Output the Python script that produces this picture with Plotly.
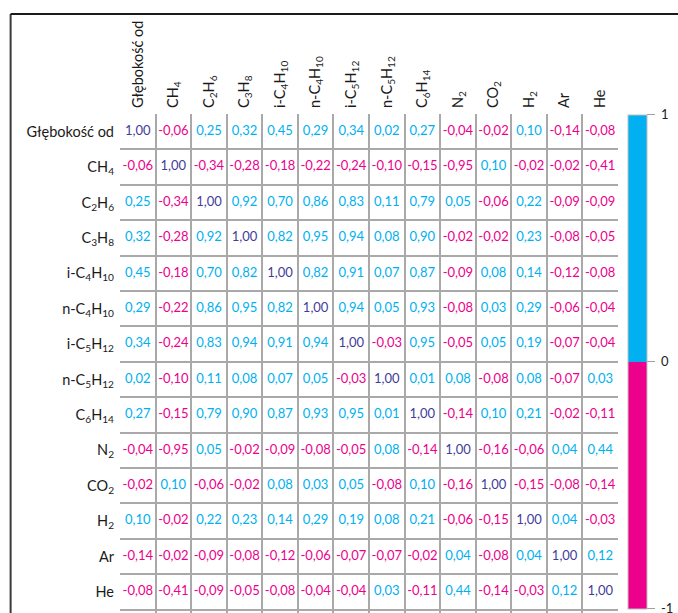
import plotly.graph_objects as go

labels = ["Głębokość od", "CH<sub>4</sub>", "C<sub>2</sub>H<sub>6</sub>", "C<sub>3</sub>H<sub>8</sub>",
          "i-C<sub>4</sub>H<sub>10</sub>", "n-C<sub>4</sub>H<sub>10</sub>", "i-C<sub>5</sub>H<sub>12</sub>",
          "n-C<sub>5</sub>H<sub>12</sub>", "C<sub>6</sub>H<sub>14</sub>", "N<sub>2</sub>", "CO<sub>2</sub>",
          "H<sub>2</sub>", "Ar", "He"]

r_glebokosc = [1.00, -0.06, 0.25, 0.32, 0.45, 0.29, 0.34, 0.02, 0.27, -0.04, -0.02, 0.10, -0.14, -0.08]
r_ch4 = [-0.06, 1.00, -0.34, -0.28, -0.18, -0.22, -0.24, -0.10, -0.15, -0.95, 0.10, -0.02, -0.02, -0.41]
r_c2h6 = [0.25, -0.34, 1.00, 0.92, 0.70, 0.86, 0.83, 0.11, 0.79, 0.05, -0.06, 0.22, -0.09, -0.09]
r_c3h8 = [0.32, -0.28, 0.92, 1.00, 0.82, 0.95, 0.94, 0.08, 0.90, -0.02, -0.02, 0.23, -0.08, -0.05]
r_ic4h10 = [0.45, -0.18, 0.70, 0.82, 1.00, 0.82, 0.91, 0.07, 0.87, -0.09, 0.08, 0.14, -0.12, -0.08]
r_nc4h10 = [0.29, -0.22, 0.86, 0.95, 0.82, 1.00, 0.94, 0.05, 0.93, -0.08, 0.03, 0.29, -0.06, -0.04]
r_ic5h12 = [0.34, -0.24, 0.83, 0.94, 0.91, 0.94, 1.00, -0.03, 0.95, -0.05, 0.05, 0.19, -0.07, -0.04]
r_nc5h12 = [0.02, -0.10, 0.11, 0.08, 0.07, 0.05, -0.03, 1.00, 0.01, 0.08, -0.08, 0.08, -0.07, 0.03]
r_c6h14 = [0.27, -0.15, 0.79, 0.90, 0.87, 0.93, 0.95, 0.01, 1.00, -0.14, 0.10, 0.21, -0.02, -0.11]
r_n2 = [-0.04, -0.95, 0.05, -0.02, -0.09, -0.08, -0.05, 0.08, -0.14, 1.00, -0.16, -0.06, 0.04, 0.44]
r_co2 = [-0.02, 0.10, -0.06, -0.02, 0.08, 0.03, 0.05, -0.08, 0.10, -0.16, 1.00, -0.15, -0.08, -0.14]
r_h2 = [0.10, -0.02, 0.22, 0.23, 0.14, 0.29, 0.19, 0.08, 0.21, -0.06, -0.15, 1.00, 0.04, -0.03]
r_ar = [-0.14, -0.02, -0.09, -0.08, -0.12, -0.06, -0.07, -0.07, -0.02, 0.04, -0.08, 0.04, 1.00, 0.12]
r_he = [-0.08, -0.41, -0.09, -0.05, -0.08, -0.04, -0.04, 0.03, -0.11, 0.44, -0.14, -0.03, 0.12, 1.00]

matrix = [r_glebokosc, r_ch4, r_c2h6, r_c3h8, r_ic4h10, r_nc4h10, r_ic5h12,
          r_nc5h12, r_c6h14, r_n2, r_co2, r_h2, r_ar, r_he]

cbar_vals = [-1, 0, 1]
cbar_text = ["\u00a0-1", "\u00a00", "\u00a01"]

BLUE = "#00B0F0"
MAGENTA = "#EC008C"
DIAG = "#3F3D99"
GRID = "#A9A9A9"

n = len(labels)
xs, ys, txt, cols = [], [], [], []
for i, row in enumerate(matrix):
    for j, v in enumerate(row):
        xs.append(j)
        ys.append(i)
        txt.append(f"{v:.2f}".replace(".", ","))
        if i == j:
            cols.append(DIAG)
        elif v >= 0:
            cols.append(BLUE)
        else:
            cols.append(MAGENTA)

fig = go.Figure()
fig.add_trace(go.Scatter(
    x=xs, y=ys, mode="text", text=txt,
    textfont=dict(color=cols, size=13, family="Lato"),
    hoverinfo="skip", showlegend=False,
))
# colour bar carrier
fig.add_trace(go.Scatter(
    x=[0], y=[0], mode="markers", hoverinfo="skip", showlegend=False,
    marker=dict(color=[0], cmin=-1, cmax=1, opacity=0, size=1,
                colorscale=[[0, MAGENTA], [0.5, MAGENTA], [0.5, BLUE], [1, BLUE]],
                showscale=True,
                colorbar=dict(
                    x=1.0197, xanchor="left", xpad=0,
                    y=0.9984, yanchor="top", ypad=0,
                    lenmode="pixels", len=494,
                    thicknessmode="pixels", thickness=19,
                    outlinewidth=1, outlinecolor="#BFBFBF",
                    tickvals=cbar_vals, ticktext=cbar_text,
                    ticks="outside", ticklen=8, tickcolor="#A0A0A0", tickwidth=1,
                    ticklabeloverflow="allow",
                    tickfont=dict(size=13, color="#222222", family="Lato"),
                )),
))

W, H = 678, 613
L, R, T, B = 120, 59.5, 113.5, 0
pw = W - L - R
ph = H - T - B
cell_h = 35.43
extra = (ph - n * cell_h) / cell_h

fig.update_xaxes(
    range=[-0.5, n - 0.5], side="top",
    tickvals=list(range(n)), ticktext=labels, tickangle=-90,
    ticks="", showgrid=False, zeroline=False, showline=False,
    tickfont=dict(size=14.5, color="#1a1a1a", family="Lato"),
    minor=dict(tick0=-0.5, dtick=1, showgrid=True, gridcolor=GRID, gridwidth=1.5, ticks=""),
    ticklabelstandoff=5,
    fixedrange=True,
)
fig.update_yaxes(
    range=[n - 0.5 + extra, -0.5],
    tickvals=list(range(n)), ticktext=labels,
    ticks="", showgrid=False, zeroline=False, showline=False,
    tickfont=dict(size=14.5, color="#1a1a1a", family="Lato"),
    minor=dict(tick0=-0.5, dtick=1, showgrid=True, gridcolor=GRID, gridwidth=1.5, ticks=""),
    ticklabelstandoff=5,
    fixedrange=True,
)

# outer frame lines
fx = (10.5 - L) / pw
fy = 1 + (T - 13.5) / ph
fig.add_shape(type="line", xref="paper", yref="paper", x0=fx, x1=fx, y0=-0.02, y1=fy,
              line=dict(color="#3a3a3a", width=2))
fig.add_shape(type="line", xref="paper", yref="paper", x0=fx, x1=(W - L) / pw + 0.02, y0=fy, y1=fy,
              line=dict(color="#1a1a1a", width=2))

fig.update_layout(
    width=W, height=H,
    margin=dict(l=L, r=R, t=T, b=B, pad=0),
    paper_bgcolor="white", plot_bgcolor="white",
    font=dict(family="Lato"),
)

fig.write_html("out.html")
